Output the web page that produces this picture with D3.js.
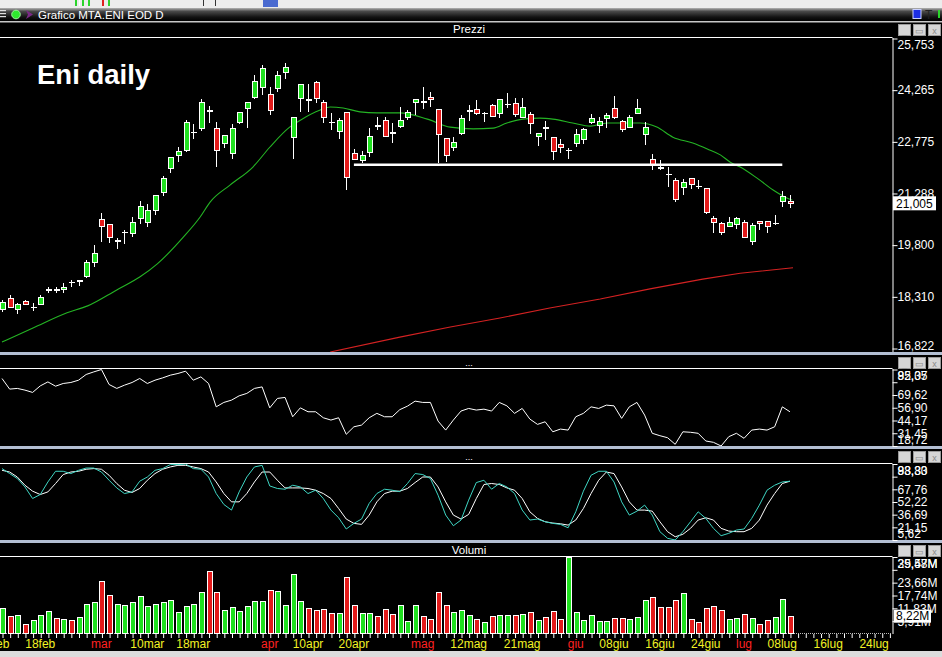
<!DOCTYPE html>
<html>
<head>
<meta charset="utf-8">
<script src="https://cdn.jsdelivr.net/npm/d3@7"></script>
<style>
  html, body { margin: 0; padding: 0; background: #000; overflow: hidden; }
  svg { display: block; }
  text { font-family: "Liberation Sans", Arial, sans-serif; }
</style>
</head>
<body>
<svg id="chart" width="942" height="657"></svg>
<script>
// ---- data (one entry per trading day, 11 feb -> 09 jul) ----
const open = [17.95,18.27,17.95,18.18,18.01,18.09,18.52,18.54,18.53,18.74,
  18.78,18.90,19.31,20.55,20.41,19.93,20.17,20.15,20.58,20.46,
  20.81,21.33,22.02,22.40,22.55,23.06,23.18,23.68,23.18,22.75,
  22.46,23.35,23.76,24.08,24.37,24.16,24.34,24.80,22.92,24.05,
  24.00,24.51,23.93,23.36,23.09,23.64,22.46,22.26,22.49,23.25,
  23.41,23.05,23.24,23.50,23.93,23.94,24.08,23.73,22.89,22.63,
  23.04,23.66,23.73,23.60,23.85,23.61,23.87,23.90,23.50,23.59,
  22.95,23.19,22.92,22.72,22.54,22.75,22.86,23.35,23.27,23.47,
  23.76,23.38,23.21,23.61,23.01,22.29,22.04,21.86,21.68,21.48,
  21.74,21.51,21.45,20.58,20.43,20.35,20.41,20.46,19.92,20.49,
  20.49,20.43,21.07,21.07];
const high = [18.23,18.36,18.12,18.22,18.12,18.35,18.59,18.59,18.70,18.79,
  18.80,19.37,19.80,20.72,20.41,20.00,20.23,20.61,21.07,20.98,
  21.25,21.79,22.34,22.63,23.41,23.30,24.02,23.82,23.35,22.98,
  23.30,23.64,23.93,24.71,25.00,24.37,24.83,25.06,23.50,24.45,
  24.45,24.54,23.99,23.61,23.47,23.64,22.57,22.52,23.18,23.50,
  23.50,23.33,23.79,23.70,24.02,24.37,24.22,23.73,22.89,22.92,
  23.56,23.85,23.99,23.64,23.87,24.02,24.19,24.05,24.05,23.64,
  23.04,23.38,22.92,22.86,22.60,23.15,23.18,23.59,23.50,23.61,
  24.11,23.41,23.56,24.02,23.35,22.43,22.26,22.05,21.74,21.71,
  21.74,21.68,21.45,20.64,20.46,20.61,20.61,20.52,20.43,20.49,
  20.49,20.67,21.36,21.24];
const low = [17.87,17.98,17.83,18.07,17.89,18.07,18.41,18.43,18.41,18.59,
  18.62,18.85,19.16,19.89,19.86,19.68,19.83,20.03,20.41,20.32,
  20.67,21.22,21.88,22.20,22.49,22.86,23.09,23.33,22.05,22.60,
  22.29,23.30,23.18,24.02,24.13,23.56,24.22,24.60,22.29,23.64,
  23.64,23.90,23.32,23.12,22.86,21.39,22.26,22.17,22.34,23.12,
  22.92,22.75,23.18,23.41,23.56,23.73,23.79,22.17,22.20,22.52,
  22.98,23.38,23.56,23.35,23.50,23.47,23.76,23.50,23.47,23.01,
  22.66,22.83,22.26,22.46,22.29,22.63,22.72,23.30,23.04,23.18,
  23.44,23.07,23.18,23.61,22.69,21.97,21.97,21.48,21.04,21.24,
  21.42,21.42,20.70,20.15,20.09,20.32,20.26,20.00,19.80,20.23,
  20.15,20.38,20.90,20.87];
const close = [18.17,18.01,18.09,18.09,18.03,18.30,18.53,18.52,18.59,18.73,
  18.79,19.31,19.57,20.35,20.03,19.95,20.18,20.46,20.93,20.81,
  21.25,21.74,22.34,22.52,23.35,23.07,23.93,23.67,22.55,22.98,
  23.18,23.64,23.93,24.54,24.89,23.70,24.71,24.92,23.50,24.45,
  23.98,24.05,23.50,23.34,23.41,21.76,22.29,22.40,22.95,23.23,
  22.95,23.03,23.41,23.64,24.02,23.92,24.02,23.01,22.40,22.78,
  23.47,23.68,23.61,23.62,23.53,24.02,23.88,23.59,23.79,23.33,
  23.04,23.17,22.52,22.63,22.55,23.01,23.15,23.47,23.38,23.56,
  23.50,23.15,23.50,23.76,23.21,22.14,22.02,21.85,21.13,21.62,
  21.56,21.50,20.75,20.46,20.17,20.46,20.58,20.03,20.38,20.43,
  20.35,20.45,21.22,21.005];
// volumes in millions
const volume = [11.8,8.2,8.6,4.5,6.3,8.6,10.5,7.2,6.8,6.3,
  7.7,13.7,14.6,24.3,17.8,13.7,13.2,14.6,17.4,12.8,
  13.7,14.6,15.5,10.0,12.8,13.7,19.2,28.9,19.2,10.9,
  12.3,10.5,12.8,15.1,15.1,20.1,19.7,13.2,27.5,15.1,
  11.8,10.9,11.4,9.5,9.5,26.1,13.2,9.5,9.5,8.2,
  11.4,9.1,13.2,5.9,13.2,8.2,6.8,19.2,13.2,10.1,
  10.9,8.6,7.1,5.4,8.2,8.6,8.6,8.6,9.1,10.1,
  6.3,7.8,10.6,6.8,35.3,10.1,6.3,8.6,5.9,5.9,
  7.5,7.5,6.8,7.8,15.7,16.9,12.3,12.3,15.7,18.8,
  6.8,5.4,11.8,12.8,10.9,6.8,7.2,9.1,7.2,4.5,
  6.3,7.7,16.0,8.22];
const rsi = [86.1,75.5,76.2,74.5,72.2,78.7,82.7,78.4,81.1,82.1,
  84.4,90.1,92.7,95.07,80.1,76.2,79.4,82.1,86.1,81.1,
  84.4,86.7,89.4,91.1,93.4,84.4,87.7,81.1,57.8,62.2,
  64.5,68.8,71.2,76.2,77.7,56.8,66.2,67.2,47.9,56.8,
  52.9,52.9,46.9,44.6,46.9,30.4,37.9,39.6,46.9,51.3,
  47.9,47.9,55.0,58.5,63.5,62.2,62.2,43.6,34.6,44.6,
  53.6,56.2,54.6,55.5,53.6,62.2,58.8,51.3,56.2,45.6,
  40.3,42.9,32.9,35.6,34.6,47.9,51.3,57.8,56.2,59.5,
  58.8,46.3,57.8,62.2,49.6,31.4,29.0,27.0,20.4,32.9,
  32.4,31.4,23.7,22.4,18.72,28.0,31.4,26.4,34.6,35.6,
  34.6,37.9,57.8,52.9];
const stochK = [93.2,87.1,81.0,70.7,56.5,61.4,76.8,89.9,89.9,87.1,
  91.1,93.9,93.9,89.0,78.9,69.5,62.6,64.6,77.7,82.9,
  91.1,93.2,98.1,98.1,98.83,93.2,92.4,82.9,62.6,49.2,
  42.3,64.6,82.9,95.2,97.2,71.9,68.8,67.9,72.8,70.7,
  62.6,66.7,56.5,42.3,32.9,19.1,26.0,31.3,50.5,62.6,
  67.9,66.7,64.9,74.9,87.1,85.9,81.0,60.6,36.2,23.1,
  30.1,54.5,76.1,78.9,67.9,74.9,70.7,62.6,42.3,30.1,
  31.3,28.0,26.0,24.8,20.6,40.2,65.5,85.0,89.9,89.9,
  76.8,52.4,36.2,41.0,48.4,36.2,15.8,7.7,5.62,15.8,
  28.0,40.2,32.1,19.9,10.9,13.8,17.8,19.1,32.1,48.4,
  66.7,72.8,76.8,77.7];
const stochD = [91.1,89.0,82.9,72.8,65.5,61.4,64.6,74.9,85.9,89.0,
  89.9,92.4,93.2,92.4,85.0,74.9,66.7,63.9,68.8,78.9,
  87.1,92.4,95.2,97.2,97.2,95.2,93.2,89.0,76.8,62.6,
  52.4,52.4,62.6,76.8,89.0,89.0,78.9,69.5,69.5,69.5,
  68.8,66.7,62.6,56.5,44.3,31.3,26.0,24.8,36.2,52.4,
  62.6,65.5,65.5,68.8,76.1,82.9,82.9,70.7,52.4,36.2,
  31.3,37.0,56.5,73.7,74.9,73.7,69.5,66.7,56.5,40.2,
  32.1,28.0,26.4,25.5,23.9,30.1,44.3,62.6,78.9,89.0,
  87.1,70.7,52.4,42.3,42.3,41.0,28.0,15.8,9.6,12.6,
  19.9,30.1,32.9,30.1,19.9,16.6,15.8,15.8,19.9,30.1,
  48.4,62.6,74.9,77.7];

// moving averages, read at points along the drawn lines (bar position, price)
const maShortBar = [0,4.05,8.5,11.2,15,18,20.3,23.7,25.9,27.2,29.8,32.8,35,37.6,39,41.6,42.9,44.6,46.8,49,52,55.6,58.6,61.6,64.2,66,68.1,70.3,72,74.6,76.9,79.1,81.2,83.4,85.6,87.7,90.3,92.2,93.9,95.2,96.5,98.7,100.8,102.6,103.3];
const maShort = [17.01,17.41,17.85,18.05,18.51,18.88,19.26,20.03,20.61,21.04,21.53,22.05,22.62,23.20,23.40,23.69,23.78,23.75,23.64,23.61,23.61,23.43,23.20,23.15,23.17,23.32,23.43,23.46,23.43,23.32,23.23,23.32,23.32,23.32,23.20,22.91,22.74,22.57,22.40,22.19,22.05,21.73,21.39,21.16,21.10];
const maLongBar = [42.9,52,58.6,65.1,71.6,78.2,84.7,91.6,96.5,103.4];
const maLong = [16.72,17.15,17.44,17.70,17.99,18.25,18.54,18.82,18.99,19.15];

// support level drawn by hand
const supportLevel = 22.117, supportFrom = 46, supportTo = 102;

// axis ticks
const priceTicks = [25.753, 24.265, 22.775, 21.288, 19.800, 18.310, 16.822];
const rsiTicks   = [95.07, 82.35, 69.62, 56.90, 44.17, 31.45, 18.72];
const stochTicks = [98.83, 83.30, 67.76, 52.22, 36.69, 21.15, 5.62];
const volTicks   = [35.48, 29.57, 23.66, 17.74, 11.83, 5.91];
const dateLabels = ["10feb","18feb","mar","10mar","18mar","apr","10apr","20apr","mag","12mag","21mag","giu","08giu","16giu","24giu","lug","08lug","16lug","24lug"];
const dateLabelBar = [-1,5,13,19,25,35,40,46,55,61,68,75,80,86,92,97,102,108,114];
const monthStarts = ["mar","apr","mag","giu","lug"];

// ---- layout ----
const W = 942, H = 657, plotRight = 892;
const UP = "#1fe01f", DOWN = "#e31b1b";

const svg = d3.select("#chart");
const defs = svg.append("defs");

svg.append("rect").attr("width", W).attr("height", H).attr("fill", "#000");

// window chrome at the top
svg.append("rect").attr("x", 0).attr("y", 0).attr("width", W).attr("height", 8).attr("fill", "#ececec");
[[75,2,"#2bd42b"],[79,1,"#fff"],[82,2,"#2bd42b"],[88,2,"#2bd42b"],[102,2,"#e02020"],[108,2,"#2bd42b"],[203,1,"#333"],[215,1,"#333"]]
  .forEach(d => svg.append("rect").attr("x", d[0]).attr("y", 0).attr("width", d[1]).attr("height", 6).attr("fill", d[2]));
svg.append("rect").attr("x", 263).attr("y", 0).attr("width", 15).attr("height", 7).attr("fill", "#4a6ad0");

const grad = defs.append("linearGradient").attr("id", "titleGrad").attr("x1", 0).attr("x2", 0).attr("y1", 0).attr("y2", 1);
grad.append("stop").attr("offset", "0%").attr("stop-color", "#b4b4b4");
grad.append("stop").attr("offset", "25%").attr("stop-color", "#4a4a4a");
grad.append("stop").attr("offset", "70%").attr("stop-color", "#121212");
grad.append("stop").attr("offset", "100%").attr("stop-color", "#000");
svg.append("rect").attr("x", 0).attr("y", 8).attr("width", W).attr("height", 13).attr("fill", "url(#titleGrad)");
svg.append("rect").attr("x", 0).attr("y", 21).attr("width", W).attr("height", 1.5).attr("fill", "#c8c8c8");

// title bar icons
[10, 13, 16].forEach(y => svg.append("rect").attr("x", 0).attr("y", y).attr("width", 6).attr("height", 1.2).attr("fill", "#ddd"));
svg.append("circle").attr("cx", 16).attr("cy", 14.5).attr("r", 4.3).attr("fill", "#2ee82e").attr("stroke", "#9af09a");
svg.append("path").attr("d", "M26,10 L33,14.5 L26,19 L28,14.5 Z").attr("fill", "#7a2a86");
svg.append("text").attr("x", 38).attr("y", 19).attr("fill", "#fff").attr("font-size", 11.5).text("Grafico MTA.ENI EOD D");
svg.append("rect").attr("x", 913).attr("y", 9.5).attr("width", 8).attr("height", 9).attr("fill", "#1c2ee6").attr("stroke", "#c8d0ff");
svg.append("text").attr("x", 925).attr("y", 19).attr("fill", "#222").attr("font-size", 12).attr("font-family", "Liberation Serif").text("T");
svg.append("rect").attr("x", 938).attr("y", 10).attr("width", 2).attr("height", 8).attr("fill", "#2bd42b");

// panel geometry
const panels = [
  { name: "Prezzi", head: 22, top: 38,  bottom: 352 },
  { name: "...",    head: 355, top: 369, bottom: 446 },
  { name: "...",    head: 449, top: 464, bottom: 540 },
  { name: "Volumi", head: 543, top: 557, bottom: 634 }
];

// separators between panels
[352, 446, 540].forEach(y => {
  svg.append("rect").attr("x", 0).attr("y", y).attr("width", W).attr("height", 3).attr("fill", "#b3bfd3");
});

panels.forEach((p, k) => {
  svg.append("text")
    .attr("x", 469).attr("y", p.head + 11)
    .attr("text-anchor", "middle")
    .attr("fill", "#fff")
    .attr("font-size", p.name === "..." ? 9 : 11.5)
    .text(p.name);
  svg.append("line")
    .attr("x1", 0).attr("x2", plotRight + 0.5)
    .attr("y1", p.top - 0.5).attr("y2", p.top - 0.5)
    .attr("stroke", "#fff");
  // little window buttons
  ["_", "\u25AD", "x"].forEach((g, j) => {
    const bx = 898 + j * 15;
    svg.append("rect").attr("x", bx + 0.5).attr("y", p.head + 2.5).attr("width", 12).attr("height", 11)
      .attr("fill", "#d6d6d6").attr("stroke", "#9a9a9a");
    svg.append("text").attr("x", bx + 6.5).attr("y", p.head + 11.5).attr("text-anchor", "middle")
      .attr("fill", "#8a8a8a").attr("font-size", 9).text(g);
  });
  defs.append("clipPath").attr("id", "clip" + k)
    .append("rect").attr("x", 0).attr("y", p.top).attr("width", plotRight).attr("height", p.bottom - p.top);
});

// ---- scales ----
const x = d3.scaleLinear().domain([0, 116]).range([2, 2 + 7.65 * 116]);
const yPrice = d3.scaleLinear().domain(d3.extent(priceTicks)).range([348.5, 38.5]);
const yRsi   = d3.scaleLinear().domain(d3.extent(rsiTicks)).range([446, 369.5]);
const yStoch = d3.scaleLinear().domain(d3.extent(stochTicks)).range([540, 464]);
const yVol   = d3.scaleLinear().domain([0, d3.max(volTicks)]).range([634, 557]);

const comma = f => v => d3.format(f)(v).replace(".", ",");

// right axes: labels kept inside the panel, a label crowding the top one sits on the same row
function rightAxis(scale, ticks, fmt, p) {
  const g = svg.append("g")
    .attr("transform", `translate(${plotRight + 0.5},0)`)
    .call(d3.axisRight(scale).tickValues(ticks).tickFormat(fmt).tickSize(5).tickSizeOuter(0));
  g.select(".domain").attr("stroke", "#fff").attr("d", `M0.5,${p.top}V${p.bottom}`);
  g.selectAll(".tick line").attr("stroke", "#fff");
  const clampY = v => Math.max(p.top + 7, Math.min(p.bottom - 6, scale(v)));
  const topY = clampY(ticks[0]);
  g.selectAll(".tick text")
    .attr("fill", "#fff")
    .attr("font-size", 12)
    .attr("font-family", "Liberation Sans, Arial, sans-serif")
    .attr("x", 5)
    .attr("y", v => {
      let y = clampY(v);
      if (v !== ticks[0] && y - topY < 9) y = topY;
      return y - scale(v);
    });
  return g;
}

rightAxis(yPrice, priceTicks, comma(".3f"), panels[0]);
rightAxis(yRsi, rsiTicks, comma(".2f"), panels[1]);
rightAxis(yStoch, stochTicks, comma(".2f"), panels[2]);
rightAxis(yVol, volTicks, v => comma(".2f")(v) + "M", panels[3]);

// ---- price panel ----
const bars = close.map((c, i) => ({ i, o: open[i], h: high[i], l: low[i], c, v: volume[i] }));
const gPrice = svg.append("g").attr("clip-path", "url(#clip0)");

gPrice.append("path")
  .datum(maLong.map((v, k) => [maLongBar[k], v]))
  .attr("fill", "none").attr("stroke", "#d42222").attr("stroke-width", 1.1)
  .attr("d", d3.line().x(d => x(d[0])).y(d => yPrice(d[1])));

gPrice.append("path")
  .datum(maShort.map((v, k) => [maShortBar[k], v]))
  .attr("fill", "none").attr("stroke", "#24b424").attr("stroke-width", 1.1)
  .attr("d", d3.line().x(d => x(d[0])).y(d => yPrice(d[1])).curve(d3.curveMonotoneX));

const candle = gPrice.selectAll(".candle")
  .data(bars)
  .enter()
  .append("g")
  .attr("class", "candle");

candle.append("line")
  .attr("x1", d => Math.round(x(d.i)) + 0.5)
  .attr("x2", d => Math.round(x(d.i)) + 0.5)
  .attr("y1", d => Math.round(yPrice(d.h)))
  .attr("y2", d => Math.round(yPrice(d.l)))
  .attr("stroke", "#fff");

candle.each(function(d) {
  const g = d3.select(this);
  const cx = Math.round(x(d.i));
  const yt = Math.round(yPrice(Math.max(d.o, d.c)));
  const yb = Math.round(yPrice(Math.min(d.o, d.c)));
  if (yb - yt < 1) {
    g.append("line")
      .attr("x1", cx - 2).attr("x2", cx + 4)
      .attr("y1", yt + 0.5).attr("y2", yt + 0.5)
      .attr("stroke", "#fff");
  } else {
    g.append("rect")
      .attr("x", cx - 1.5).attr("y", yt + 0.5)
      .attr("width", 5).attr("height", yb - yt)
      .attr("fill", d.c >= d.o ? UP : DOWN)
      .attr("stroke", "#fff");
  }
});

gPrice.append("line")
  .attr("x1", x(supportFrom)).attr("x2", x(supportTo))
  .attr("y1", yPrice(supportLevel)).attr("y2", yPrice(supportLevel))
  .attr("stroke", "#fff").attr("stroke-width", 2.5);

svg.append("text")
  .attr("x", 37).attr("y", 84)
  .attr("fill", "#fff")
  .attr("font-family", "Lato, 'Open Sans', sans-serif")
  .attr("font-weight", "bold")
  .attr("font-size", 27.5)
  .text("Eni daily");

// last price marker
const lastClose = close[close.length - 1];
svg.append("rect").attr("x", 893).attr("y", yPrice(lastClose) - 7).attr("width", 43).attr("height", 14).attr("fill", "#fff");
svg.append("text").attr("x", 896).attr("y", yPrice(lastClose)).attr("dy", "0.35em")
  .attr("fill", "#000").attr("font-size", 12).text(comma(".3f")(lastClose));

// ---- oscillator panels ----
svg.append("g").attr("clip-path", "url(#clip1)")
  .append("path")
  .datum(rsi)
  .attr("fill", "none").attr("stroke", "#fff")
  .attr("d", d3.line().x((d, i) => x(i)).y(d => yRsi(d)));

const gSto = svg.append("g").attr("clip-path", "url(#clip2)");
gSto.append("path")
  .datum(stochD)
  .attr("fill", "none").attr("stroke", "#fff")
  .attr("d", d3.line().x((d, i) => x(i)).y(d => yStoch(d)));
gSto.append("path")
  .datum(stochK)
  .attr("fill", "none").attr("stroke", "#3fd6c4")
  .attr("d", d3.line().x((d, i) => x(i)).y(d => yStoch(d)));

// ---- volume panel ----
svg.append("line")
  .attr("x1", 0).attr("x2", plotRight).attr("y1", 633.5).attr("y2", 633.5)
  .attr("stroke", "#bbb").attr("stroke-dasharray", "1,1");

svg.append("g").attr("clip-path", "url(#clip3)")
  .selectAll("rect")
  .data(bars)
  .enter()
  .append("rect")
  .attr("x", d => Math.round(x(d.i)) - 1.5)
  .attr("y", d => Math.round(yVol(d.v)) + 0.5)
  .attr("width", 5)
  .attr("height", d => 633 - Math.round(yVol(d.v)))
  .attr("fill", d => d.c >= d.o ? UP : DOWN)
  .attr("stroke", "#fff");

const lastVol = volume[volume.length - 1];
svg.append("rect").attr("x", 894).attr("y", yVol(lastVol) - 6.5).attr("width", 37).attr("height", 13).attr("fill", "#fff");
svg.append("text").attr("x", 896).attr("y", yVol(lastVol)).attr("dy", "0.35em")
  .attr("fill", "#000").attr("font-size", 12).text(comma(".2f")(lastVol) + "M");

// ---- time axis ----
const gx = svg.append("g")
  .attr("transform", "translate(0.5,634)")
  .call(d3.axisBottom(x).tickValues(d3.range(0, 117)).tickFormat("").tickSize(4).tickSizeOuter(0));
gx.select(".domain").remove();
gx.selectAll(".tick line").attr("stroke", "#fff");

svg.append("g")
  .selectAll("text")
  .data(dateLabels)
  .enter()
  .append("text")
  .attr("x", (d, k) => x(dateLabelBar[k]))
  .attr("y", 648)
  .attr("text-anchor", "middle")
  .attr("font-size", 12)
  .attr("fill", d => monthStarts.includes(d) ? "#ff2222" : "#f2f224")
  .text(d => d);

svg.append("rect").attr("x", 0).attr("y", 651).attr("width", W).attr("height", 6).attr("fill", "#dcdcdc");
</script>
</body>
</html>
